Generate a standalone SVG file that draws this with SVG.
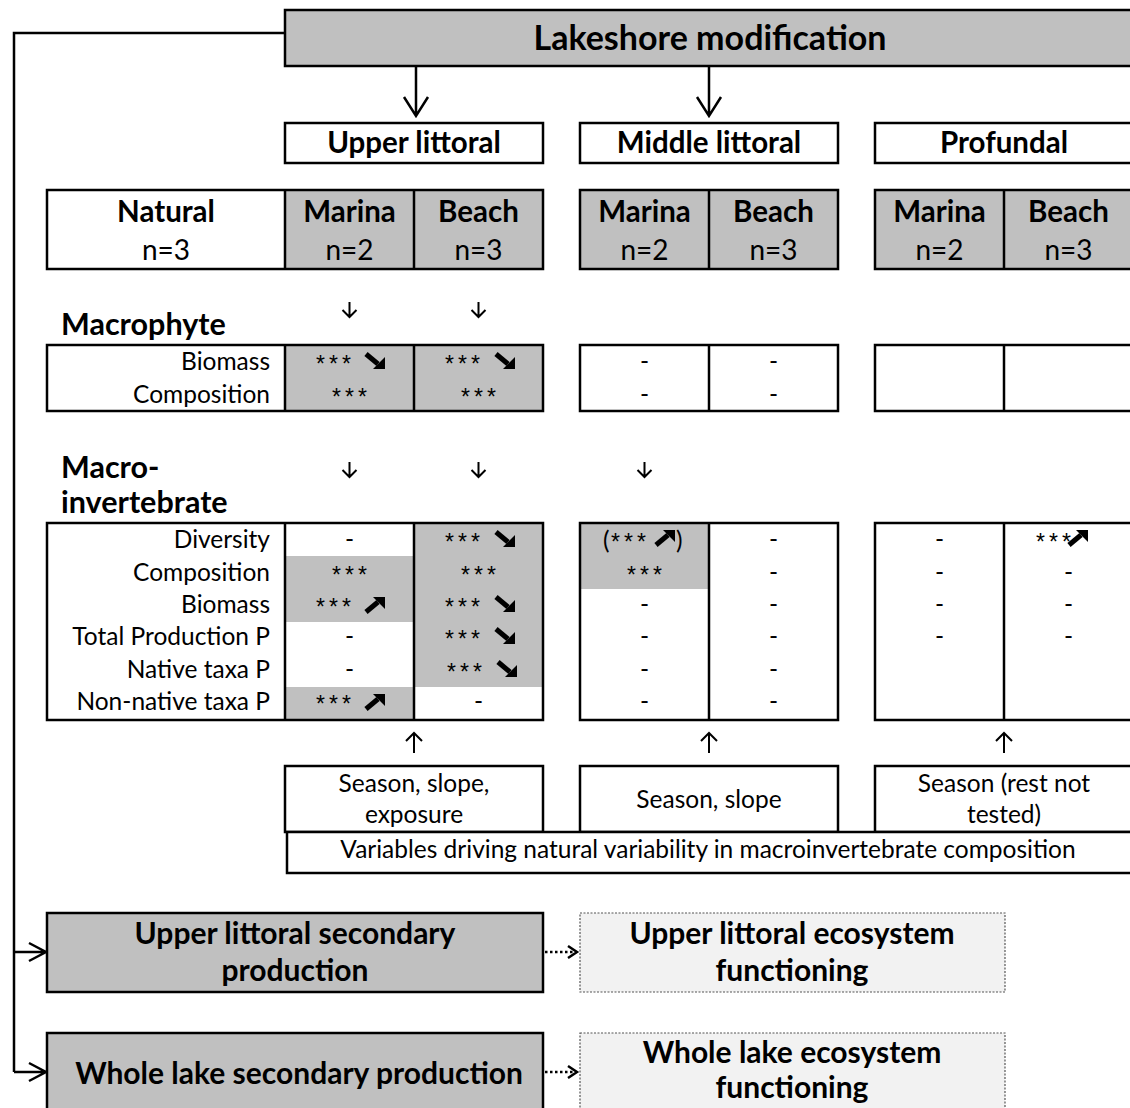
<svg xmlns="http://www.w3.org/2000/svg" xmlns:xlink="http://www.w3.org/1999/xlink" width="1130" height="1108" viewBox="0 0 1130 1108">
<style>
.box{stroke:#000;stroke-width:2.5;}
.g{fill:#c0c0c0;}
.w{fill:#fff;}
.line{stroke:#000;stroke-width:2.5;fill:none;}
.t{font-family:Lato,"Liberation Sans",sans-serif;fill:#000;}
.title{font-size:34px;font-weight:bold;}
.hd{font-size:29.5px;font-weight:bold;}
.n{font-size:28px;}
.sec{font-size:30.5px;font-weight:bold;}
.lab{font-size:24.5px;text-anchor:end;}
.c{font-size:24.5px;text-anchor:middle;}
.st{font-family:"Liberation Sans",sans-serif;font-size:23px;letter-spacing:4px;}
.bot{font-size:30px;font-weight:bold;text-anchor:middle;}
.mid{text-anchor:middle;}
.fn{fill:#f2f2f2;stroke:#555;stroke-width:1.2;stroke-dasharray:2 1.5;}
</style>
<defs>
<g id="dr"><path d="M1,1 L13,11" stroke="#000" stroke-width="5" fill="none"/><path d="M20,16 L20,4 L8,16 Z" fill="#000"/></g>
<g id="ur"><path d="M1,15 L13,5" stroke="#000" stroke-width="5" fill="none"/><path d="M20,0 L20,12 L8,0 Z" fill="#000"/></g>
<g id="sd"><path d="M0,-15 V0 M-7,-7 L0,0 L7,-7" stroke="#000" stroke-width="2" fill="none"/></g>
<g id="su"><path d="M0,0 V20 M-8,8 L0,0 L8,8" stroke="#000" stroke-width="2" fill="none"/></g>
</defs>

<g id="connectors">
<path class="line" d="M285,33 H14 V1072" stroke-width="3"/>
<path class="line" d="M14,952 H46 M29,943 L46,952 L29,961" stroke-width="3"/>
<path class="line" d="M14,1072 H46 M29,1063 L46,1072 L29,1081" stroke-width="3"/>
<path class="line" d="M416,66 V116 M404,97 L416,116 L428,97"/>
<path class="line" d="M709,66 V116 M697,97 L709,116 L721,97"/>
<use href="#sd" x="349.5" y="317"/>
<use href="#sd" x="478.5" y="317"/>
<use href="#sd" x="349.5" y="477"/>
<use href="#sd" x="478.5" y="477"/>
<use href="#sd" x="644.5" y="477"/>
<use href="#su" x="414" y="733"/>
<use href="#su" x="709" y="733"/>
<use href="#su" x="1004" y="733"/>
<path d="M545,952 H574" stroke="#000" stroke-width="2.5" stroke-dasharray="2.5 2.5" fill="none"/>
<path d="M568,946 L577,952 L568,958" stroke="#000" stroke-width="2.5" fill="none"/>
<path d="M545,1072 H574" stroke="#000" stroke-width="2.5" stroke-dasharray="2.5 2.5" fill="none"/>
<path d="M568,1066 L577,1072 L568,1078" stroke="#000" stroke-width="2.5" fill="none"/>
</g>

<g id="lakeshore">
<rect class="box g" x="285" y="10" width="850" height="56" stroke-width="3"/>
<text class="t title mid" x="710" y="50">Lakeshore modification</text>
</g>

<g id="upper-littoral">
<rect class="box w" x="285" y="123" width="258" height="40"/>
<text class="t hd mid" x="414" y="153">Upper littoral</text>
</g>
<g id="middle-littoral">
<rect class="box w" x="580" y="123" width="258" height="40"/>
<text class="t hd mid" x="709" y="153">Middle littoral</text>
</g>
<g id="profundal">
<rect class="box w" x="875" y="123" width="258" height="40"/>
<text class="t hd mid" x="1004" y="153">Profundal</text>
</g>

<g id="sites-upper">
<rect class="w" x="47" y="190" width="238" height="79"/>
<rect class="g" x="285" y="190" width="258" height="79"/>
<rect class="box" fill="none" x="47" y="190" width="496" height="79"/>
<path class="line" d="M285,190 V269 M414,190 V269"/>
<text class="t hd mid" x="166" y="222">Natural</text>
<text class="t n mid" x="166" y="260">n=3</text>
<text class="t hd mid" x="349.5" y="222">Marina</text>
<text class="t n mid" x="349.5" y="260">n=2</text>
<text class="t hd mid" x="478.5" y="222">Beach</text>
<text class="t n mid" x="478.5" y="260">n=3</text>
</g>
<g id="sites-middle">
<rect class="box g" x="580" y="190" width="258" height="79"/>
<path class="line" d="M709,190 V269"/>
<text class="t hd mid" x="644.5" y="222">Marina</text>
<text class="t n mid" x="644.5" y="260">n=2</text>
<text class="t hd mid" x="773.5" y="222">Beach</text>
<text class="t n mid" x="773.5" y="260">n=3</text>
</g>
<g id="sites-profundal">
<rect class="box g" x="875" y="190" width="258" height="79"/>
<path class="line" d="M1004,190 V269"/>
<text class="t hd mid" x="939.5" y="222">Marina</text>
<text class="t n mid" x="939.5" y="260">n=2</text>
<text class="t hd mid" x="1068.5" y="222">Beach</text>
<text class="t n mid" x="1068.5" y="260">n=3</text>
</g>

<g id="macrophyte-label">
<text class="t sec" x="61" y="335">Macrophyte</text>
</g>
<g id="macrophyte-upper">
<rect class="w" x="47" y="345" width="238" height="66"/>
<rect class="g" x="285" y="345" width="258" height="66"/>
<rect class="box" fill="none" x="47" y="345" width="496" height="66"/>
<path class="line" d="M285,345 V411 M414,345 V411"/>
<text class="t lab" x="270" y="370">Biomass</text>
<text class="t lab" x="270" y="403">Composition</text>
<text class="st" x="316" y="372">***</text><use href="#dr" x="365" y="353"/>
<text class="st mid" x="351.5" y="405">***</text>
<text class="st" x="445" y="372">***</text><use href="#dr" x="495" y="353"/>
<text class="st mid" x="480.5" y="405">***</text>
</g>
<g id="macrophyte-middle">
<rect class="box w" x="580" y="345" width="258" height="66"/>
<path class="line" d="M709,345 V411"/>
<text class="t c" x="644.5" y="370">-</text>
<text class="t c" x="644.5" y="403">-</text>
<text class="t c" x="773.5" y="370">-</text>
<text class="t c" x="773.5" y="403">-</text>
</g>
<g id="macrophyte-profundal">
<rect class="box w" x="875" y="345" width="258" height="66"/>
<path class="line" d="M1004,345 V411"/>
</g>

<g id="macroinvertebrate-label">
<text class="t sec" x="61" y="478">Macro-</text>
<text class="t sec" x="61" y="513">invertebrate</text>
</g>
<g id="macroinvertebrate-upper">
<rect class="w" x="47" y="523" width="496" height="197"/>
<rect class="g" x="285" y="556" width="129" height="66"/>
<rect class="g" x="285" y="687" width="129" height="33"/>
<rect class="g" x="414" y="523" width="129" height="164"/>
<rect class="box" fill="none" x="47" y="523" width="496" height="197"/>
<path class="line" d="M285,523 V720 M414,523 V720"/>
<text class="t lab" x="270" y="548">Diversity</text>
<text class="t lab" x="270" y="581">Composition</text>
<text class="t lab" x="270" y="613">Biomass</text>
<text class="t lab" x="270" y="645">Total Production P</text>
<text class="t lab" x="270" y="678">Native taxa P</text>
<text class="t lab" x="270" y="710">Non-native taxa P</text>
<text class="t c" x="349.5" y="548">-</text>
<text class="st mid" x="351.5" y="583">***</text>
<text class="st" x="316" y="615">***</text><use href="#ur" x="365" y="597"/>
<text class="t c" x="349.5" y="645">-</text>
<text class="t c" x="349.5" y="678">-</text>
<text class="st" x="316" y="712">***</text><use href="#ur" x="365" y="694"/>
<text class="st" x="445" y="550">***</text><use href="#dr" x="495" y="531"/>
<text class="st mid" x="480.5" y="583">***</text>
<text class="st" x="445" y="615">***</text><use href="#dr" x="495" y="596"/>
<text class="st" x="445" y="647">***</text><use href="#dr" x="495" y="628"/>
<text class="st" x="447" y="680">***</text><use href="#dr" x="497" y="661"/>
<text class="t c" x="478.5" y="710">-</text>
</g>
<g id="macroinvertebrate-middle">
<rect class="w" x="580" y="523" width="258" height="197"/>
<rect class="g" x="580" y="523" width="129" height="66"/>
<rect class="box" fill="none" x="580" y="523" width="258" height="197"/>
<path class="line" d="M709,523 V720"/>
<text class="t" x="603" y="549" font-size="24.5">(</text>
<text class="st" x="611" y="550">***</text><use href="#ur" x="655" y="530"/>
<text class="t" x="676" y="549" font-size="24.5">)</text>
<text class="st mid" x="646.5" y="583">***</text>
<text class="t c" x="644.5" y="613">-</text>
<text class="t c" x="644.5" y="645">-</text>
<text class="t c" x="644.5" y="678">-</text>
<text class="t c" x="644.5" y="710">-</text>
<text class="t c" x="773.5" y="548">-</text>
<text class="t c" x="773.5" y="581">-</text>
<text class="t c" x="773.5" y="613">-</text>
<text class="t c" x="773.5" y="645">-</text>
<text class="t c" x="773.5" y="678">-</text>
<text class="t c" x="773.5" y="710">-</text>
</g>
<g id="macroinvertebrate-profundal">
<rect class="box w" x="875" y="523" width="258" height="197"/>
<path class="line" d="M1004,523 V720"/>
<text class="t c" x="939.5" y="548">-</text>
<text class="t c" x="939.5" y="581">-</text>
<text class="t c" x="939.5" y="613">-</text>
<text class="t c" x="939.5" y="645">-</text>
<text class="st" x="1036" y="550">***</text><use href="#ur" x="1068" y="530"/>
<text class="t c" x="1068.5" y="581">-</text>
<text class="t c" x="1068.5" y="613">-</text>
<text class="t c" x="1068.5" y="645">-</text>
</g>

<g id="drivers">
<rect class="box w" x="285" y="766" width="258" height="66"/>
<text class="t c" x="414" y="792">Season, slope,</text>
<text class="t c" x="414" y="823">exposure</text>
<rect class="box w" x="580" y="766" width="258" height="66"/>
<text class="t c" x="709" y="808">Season, slope</text>
<rect class="box w" x="875" y="766" width="258" height="66"/>
<text class="t c" x="1004" y="792">Season (rest not</text>
<text class="t c" x="1004" y="823">tested)</text>
<rect class="box w" x="287" y="832" width="846" height="41"/>
<text class="t c" x="708" y="858" font-size="25px">Variables driving natural variability in macroinvertebrate composition</text>
</g>

<g id="upper-secondary-production">
<rect class="box g" x="47" y="913" width="496" height="79"/>
<text class="t bot" x="295" y="944">Upper littoral secondary</text>
<text class="t bot" x="295" y="981">production</text>
</g>
<g id="whole-lake-secondary-production">
<rect class="box g" x="47" y="1033" width="496" height="90"/>
<text class="t bot" x="299" y="1084">Whole lake secondary production</text>
</g>
<g id="upper-ecosystem-functioning">
<rect class="fn" x="580" y="913" width="425" height="79"/>
<text class="t bot" x="792" y="944">Upper littoral ecosystem</text>
<text class="t bot" x="792" y="981">functioning</text>
</g>
<g id="whole-lake-ecosystem-functioning">
<rect class="fn" x="580" y="1033" width="425" height="90"/>
<text class="t bot" x="792" y="1063">Whole lake ecosystem</text>
<text class="t bot" x="792" y="1098">functioning</text>
</g>
</svg>
